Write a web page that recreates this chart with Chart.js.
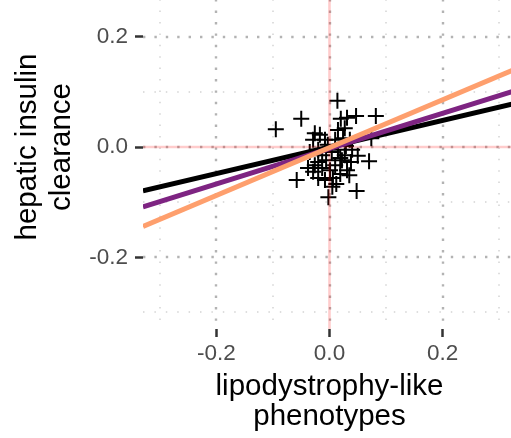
<!DOCTYPE html>
<html>
<head>
<meta charset="utf-8">
<script src="https://cdn.jsdelivr.net/npm/chart.js@4.4.1/dist/chart.umd.min.js"></script>
<style>
  html, body { margin: 0; padding: 0; background: #fff; overflow: hidden; }
  #wrap { position: relative; width: 511px; height: 438px; overflow: hidden; }
  /* the panel runs past the top and right edges of the picture */
  #box { position: absolute; left: 0; top: -35px; width: 516px; height: 473px; }
</style>
</head>
<body>
<div id="wrap"><div id="box"><canvas id="chart" width="516" height="473"></canvas></div></div>
<script>
// axis ranges and ticks
const xLimits = [-0.33, 0.33];
const yLimits = [-0.33, 0.33];
const xTicks = [-0.2, 0.0, 0.2];
const yTicks = [-0.2, 0.0, 0.2];
const gridSteps = [-0.3, -0.2, -0.1, 0.0, 0.1, 0.2, 0.3];

// scatter points (lipodystrophy-like, hepatic insulin clearance)
const xVals = [-0.095, -0.050, 0.014, 0.020, 0.031, 0.047, 0.082, 0.074, 0.070, 0.048,
  -0.002, -0.058, -0.029, 0.005, 0.035, -0.038, -0.026, -0.029, -0.017, -0.008,
  -0.020, -0.013, -0.006, -0.020, -0.013, 0.001, 0.010, 0.019, 0.027, 0.015,
  0.010, 0.024, 0.036, 0.027, 0.015, 0.022, 0.038, 0.006, -0.008, -0.026,
  -0.035, -0.003, 0.004, 0.029, 0.040, 0.019, 0.012, 0.031, 0.050, -0.020];
const yVals = [0.032, 0.051, 0.084, 0.051, 0.053, 0.056, 0.056, 0.016, -0.026, -0.080,
  -0.091, -0.060, -0.045, -0.072, -0.051, -0.038, 0.025, 0.013, 0.022, 0.013,
  -0.005, -0.015, -0.024, -0.027, -0.038, -0.042, -0.033, -0.020, -0.015, -0.005,
  0.013, 0.016, 0.013, 0.034, 0.031, -0.024, -0.027, -0.056, -0.060, -0.033,
  -0.009, 0.004, -0.009, 0.002, -0.005, -0.049, -0.067, -0.042, -0.016, -0.056];

// fitted lines
const fitColors = ['#000000', '#7e2482', '#fe9f6d'];
const fitSlopes = [0.241, 0.320, 0.433];
const fitIntercepts = [0.000, -0.003, -0.001];

const tickFont = { family: 'Liberation Sans, Arial, sans-serif', size: 22.5 };
const titleFont = { family: 'Liberation Sans, Arial, sans-serif', size: 29.5, lineHeight: 1.02 };

const points = xVals.map((x, i) => ({ x: x, y: yVals[i] }));

const fitSets = fitSlopes.map((b, i) => ({
  type: 'line',
  data: xLimits.map(x => ({ x: x, y: fitIntercepts[i] + b * x })),
  borderColor: fitColors[i],
  borderWidth: 5,
  pointRadius: 0,
  fill: false,
  order: 3 - i
}));

// no extra room for labels near the panel edges
function noPad(s) {
  s.paddingTop = 0;
  s.paddingBottom = 0;
  s.paddingLeft = 0;
  s.paddingRight = 0;
}

// dotted grid under everything
const gridPlugin = {
  id: 'dottedGrid',
  beforeDatasetsDraw(chart) {
    const { ctx, chartArea: a, scales: { x, y } } = chart;
    ctx.save();
    ctx.beginPath();
    ctx.rect(a.left, a.top, a.right - a.left, a.bottom - a.top);
    ctx.clip();
    gridSteps.forEach(v => {
      const major = Math.abs(Math.round(v * 10)) % 2 === 0;
      ctx.strokeStyle = major ? '#b3b3b3' : '#d4d4d4';
      ctx.lineWidth = major ? 2.4 : 1.5;
      ctx.setLineDash(major ? [2.4, 9] : [1.5, 9.9]);
      const px = Math.round(x.getPixelForValue(v));
      ctx.beginPath();
      ctx.moveTo(px, a.top);
      ctx.lineTo(px, a.bottom);
      ctx.stroke();
      const py = Math.round(y.getPixelForValue(v));
      ctx.beginPath();
      ctx.moveTo(a.left, py);
      ctx.lineTo(a.right, py);
      ctx.stroke();
    });
    ctx.restore();
  },
  // pink reference lines at zero, over the points
  afterDatasetDraw(chart, args) {
    if (args.index !== 0) return;
    const { ctx, chartArea: a, scales: { x, y } } = chart;
    const px = x.getPixelForValue(0);
    const py = y.getPixelForValue(0);
    ctx.save();
    ctx.strokeStyle = 'rgba(255, 0, 0, 0.2)';
    ctx.lineWidth = 2.6;
    ctx.beginPath();
    ctx.moveTo(px, a.top);
    ctx.lineTo(px, a.bottom);
    ctx.moveTo(a.left, py);
    ctx.lineTo(a.right, py);
    ctx.stroke();
    ctx.restore();
  }
};

new Chart(document.getElementById('chart'), {
  type: 'scatter',
  data: {
    datasets: [{
      data: points,
      pointStyle: 'cross',
      pointRadius: 8,
      pointBorderWidth: 2,
      borderColor: '#000000',
      backgroundColor: '#000000',
      order: 4
    }].concat(fitSets)
  },
  options: {
    responsive: false,
    animation: false,
    devicePixelRatio: 1,
    layout: { padding: 0, autoPadding: false },
    plugins: { legend: { display: false }, tooltip: { enabled: false } },
    scales: {
      x: {
        type: 'linear',
        min: xLimits[0],
        max: xLimits[1],
        afterBuildTicks: s => { s.ticks = xTicks.map(v => ({ value: v })); },
        afterFit: s => { s.height = 109; noPad(s); },
        border: { display: false },
        grid: { drawOnChartArea: false, drawTicks: true, tickLength: 8, tickWidth: 2.5, tickColor: '#333333' },
        ticks: { font: tickFont, color: '#4d4d4d', padding: 3.5, maxRotation: 0, callback: v => v.toFixed(1) },
        title: { display: true, text: ['lipodystrophy-like', 'phenotypes'], font: titleFont, color: '#000000', padding: { top: 0, bottom: 6 } }
      },
      y: {
        type: 'linear',
        min: yLimits[0],
        max: yLimits[1],
        afterBuildTicks: s => { s.ticks = yTicks.map(v => ({ value: v })); },
        afterFit: s => { s.width = 143; noPad(s); },
        border: { display: false },
        grid: { drawOnChartArea: false, drawTicks: true, tickLength: 8, tickWidth: 2.5, tickColor: '#333333' },
        ticks: { font: tickFont, color: '#4d4d4d', padding: 7, callback: v => v.toFixed(1) },
        title: { display: true, text: ['hepatic insulin', 'clearance'], font: { family: titleFont.family, size: 29.5, lineHeight: 1.18 }, color: '#000000', padding: { top: 10, bottom: 0 } }
      }
    }
  },
  plugins: [gridPlugin]
});
</script>
</body>
</html>
